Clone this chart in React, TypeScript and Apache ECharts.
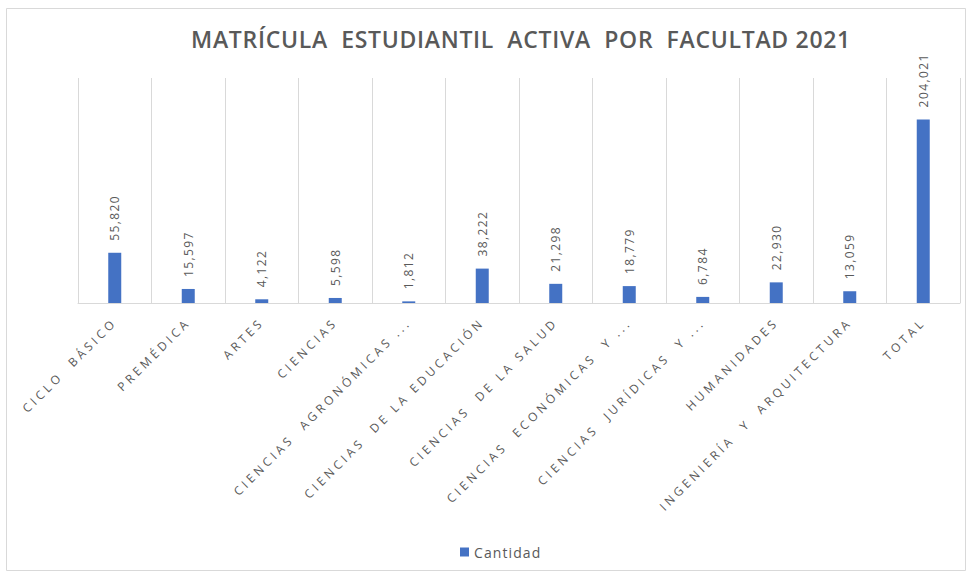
import React, { useEffect, useRef } from "react";
import * as echarts from "echarts";

const TITLE = "MATRÍCULA  ESTUDIANTIL  ACTIVA  POR  FACULTAD 2021";
const SERIES_NAME = "Cantidad";
const categories = [
  "CICLO  BÁSICO",
  "PREMÉDICA",
  "ARTES",
  "CIENCIAS",
  "CIENCIAS  AGRONÓMICAS ...",
  "CIENCIAS  DE LA EDUCACIÓN",
  "CIENCIAS  DE LA SALUD",
  "CIENCIAS  ECONÓMICAS  Y ...",
  "CIENCIAS  JURÍDICAS  Y ...",
  "HUMANIDADES",
  "INGENIERÍA  Y  ARQUITECTURA",
  "TOTAL",
];
const values = [55820, 15597, 4122, 5598, 1812, 38222, 21298, 18779, 6784, 22930, 13059, 204021];

const GRAY = "#595959";
const BLUE = "#4472C4";

const fmt = (v: number) => Number(v).toLocaleString("en-US");

export default function App() {
  const ref = useRef<HTMLDivElement>(null);
  useEffect(() => {
    if (!ref.current) return;
    const el = ref.current;
    const chart = echarts.init(el, null, { renderer: "svg" });
    chart.setOption({
      animation: false,
      backgroundColor: "#ffffff",
      title: {
        text: TITLE,
        left: 516,
        top: 22,
        textAlign: "center",
        textStyle: { color: GRAY, fontSize: 23, fontWeight: 600, fontFamily: "Open Sans" },
      },
      legend: {
        data: [SERIES_NAME],
        left: 455,
        top: 540,
        icon: "rect",
        itemWidth: 9,
        itemHeight: 9,
        itemGap: 4,
        textStyle: { color: GRAY, fontSize: 14, fontFamily: "Open Sans" },
      },
      graphic: [
        {
          type: "rect",
          shape: { x: 6.5, y: 8.5, width: 959, height: 562 },
          style: { fill: "none", stroke: "#d9d9d9", lineWidth: 1 },
          silent: true,
        },
      ],
      grid: { left: 78, right: 10, top: 78, bottom: 272, containLabel: false },
      xAxis: {
        type: "category",
        data: categories,
        boundaryGap: true,
        axisLine: { show: true, lineStyle: { color: "#d9d9d9" } },
        axisTick: { show: false },
        splitLine: { show: true, lineStyle: { color: "#d9d9d9", width: 1 } },
        axisLabel: {
          interval: 0,
          rotate: 45,
          margin: 17,
          color: GRAY,
          fontSize: 12,
          fontFamily: "Open Sans",
        },
      },
      yAxis: {
        type: "value",
        min: 0,
        max: 250000,
        show: false,
        splitLine: { show: false },
      },
      series: [
        {
          name: SERIES_NAME,
          type: "bar",
          data: values,
          barWidth: 13,
          itemStyle: { color: BLUE },
          label: {
            show: true,
            position: "top",
            rotate: 90,
            align: "left",
            verticalAlign: "middle",
            distance: 12,
            color: GRAY,
            fontSize: 12,
            fontFamily: "Open Sans",
            formatter: (p: any) => fmt(p.value),
          },
        },
      ],
    });

    const catSet = new Set(categories);
    const valSet = new Set(values.map(fmt));
    const applySpacing = () => {
      el.querySelectorAll("text").forEach((t) => {
        const s = t.textContent || "";
        let ls: number | null = null;
        if (catSet.has(s)) ls = 3.5;
        else if (valSet.has(s)) ls = 1.4;
        else if (s === TITLE) ls = 0.7;
        else if (s === SERIES_NAME) ls = 1.1;
        if (ls !== null) {
          t.setAttribute("letter-spacing", ls + "px");
        }
      });
    };
    applySpacing();
    chart.on("finished", applySpacing);
    return () => chart.dispose();
  }, []);
  return (
    <div
      ref={ref}
      style={{ position: "fixed", left: 0, top: 0, width: 970, height: 575, background: "#fff" }}
    />
  );
}
